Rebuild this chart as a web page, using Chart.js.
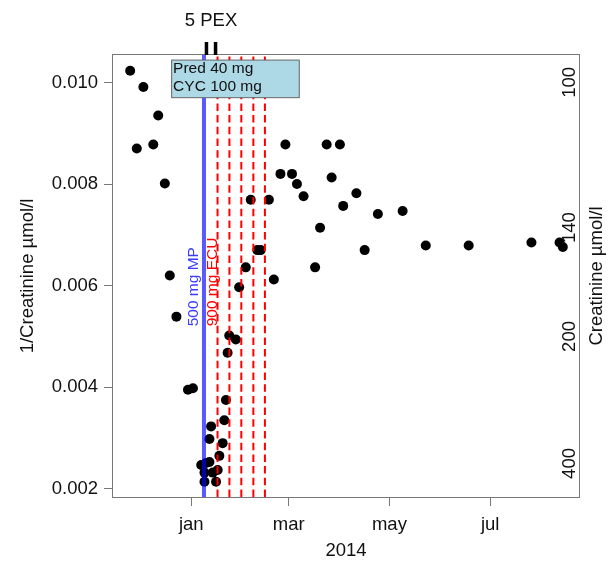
<!DOCTYPE html>
<html>
<head>
<meta charset="utf-8">
<script src="https://cdn.jsdelivr.net/npm/chart.js@4.4.0/dist/chart.umd.min.js"></script>
<style>
  html, body { margin: 0; padding: 0; background: #fff; }
</style>
</head>
<body>
<canvas id="chartContainer" width="610" height="562"></canvas>
<script>
// sample dates and 1/creatinine (1/(umol/l))
const sampleDates = [
  "2013-11-25", "2013-11-29", "2013-12-03", "2013-12-09", "2013-12-12",
  "2013-12-16", "2013-12-19", "2013-12-23", "2013-12-30", "2014-01-02",
  "2014-01-07", "2014-01-09", "2014-01-09", "2014-01-10", "2014-01-12",
  "2014-01-12", "2014-01-13", "2014-01-14", "2014-01-16", "2014-01-17",
  "2014-01-18", "2014-01-20", "2014-01-21", "2014-01-22", "2014-01-23",
  "2014-01-24", "2014-01-28", "2014-01-30", "2014-02-03", "2014-02-06",
  "2014-02-10", "2014-02-12", "2014-02-17", "2014-02-20", "2014-02-24",
  "2014-02-27", "2014-03-03", "2014-03-06", "2014-03-10", "2014-03-17",
  "2014-03-20", "2014-03-24", "2014-03-27", "2014-04-01", "2014-04-03",
  "2014-04-11", "2014-04-16", "2014-04-24", "2014-05-09", "2014-05-23",
  "2014-06-18", "2014-07-26", "2014-08-12", "2014-08-14"
];
const invCreatinine = [
  0.01023, 0.00870, 0.00991, 0.00878, 0.00935,
  0.00801, 0.00620, 0.00539, 0.00395, 0.00398,
  0.00247, 0.00232, 0.00214, 0.00251, 0.00253,
  0.00298, 0.00323, 0.00232, 0.00214, 0.00237,
  0.00265, 0.00290, 0.00335, 0.00375, 0.00468,
  0.00502, 0.00494, 0.00597, 0.00636, 0.00769,
  0.00670, 0.00670, 0.00769, 0.00612, 0.00820,
  0.00878, 0.00820, 0.00800, 0.00776, 0.00636,
  0.00714, 0.00878, 0.00813, 0.00878, 0.00757,
  0.00782, 0.00670, 0.00741, 0.00747, 0.00679,
  0.00679, 0.00685, 0.00685, 0.00676
];

// axes (x in days since 1 jan 2014)
const monthTicks = [0, 59, 120, 181];
const monthLabels = ["jan", "mar", "may", "jul"];
const leftTicks = [0.002, 0.004, 0.006, 0.008, 0.010];
const creatTicks = [100, 140, 200, 400];

// treatment events (days since 1 jan 2014)
const mpDay = 7.7;
const ecuDays = [15.9, 23.1, 30.3, 37.6, 44.6];
const pexDays = [9.2, 14.7];

const day0 = Date.UTC(2014, 0, 1);
const toDay = (s) => (Date.parse(s) - day0) / 86400000;

const FONT = "'Liberation Sans', Arial, sans-serif";
Chart.defaults.font.family = FONT;
Chart.defaults.color = "#111";

const points = sampleDates.map((d, i) => ({ x: toDay(d), y: invCreatinine[i] }));

// extra drawing: treatment lines, labels, box, right axis, frame
const overlays = {
  id: "overlays",
  afterDatasetsDraw(chart) {
    const { ctx, chartArea: a, scales: { x, y } } = chart;
    const rotText = (txt, px, py, color, size, align) => {
      ctx.save();
      ctx.translate(px, py);
      ctx.rotate(-Math.PI / 2);
      ctx.fillStyle = color;
      ctx.font = size + "px " + FONT;
      ctx.textAlign = align;
      ctx.textBaseline = "middle";
      ctx.fillText(txt, 0, 0);
      ctx.restore();
    };
    ctx.save();

    // ECU, red dashed
    ctx.strokeStyle = "#ff0000";
    ctx.lineWidth = 2;
    ctx.setLineDash([7.5, 4.2]);
    ecuDays.forEach((d) => {
      const px = x.getPixelForValue(d);
      ctx.beginPath();
      ctx.moveTo(px, a.bottom);
      ctx.lineTo(px, a.top);
      ctx.stroke();
    });
    ctx.setLineDash([]);

    // MP, blue
    const mpX = x.getPixelForValue(mpDay);
    ctx.strokeStyle = "rgba(0,0,255,0.65)";
    ctx.lineWidth = 4;
    ctx.beginPath();
    ctx.moveTo(mpX, a.bottom);
    ctx.lineTo(mpX, a.top);
    ctx.stroke();

    const labY = y.getPixelForValue(0.0052);
    rotText("500 mg MP", mpX - 10, labY, "#3c3cff", 15.5, "left");
    rotText("900 mg ECU", mpX + 9, labY, "#ff0000", 15.5, "left");

    // Pred / CYC box
    const bx0 = x.getPixelForValue(-11.9), bx1 = x.getPixelForValue(65.4);
    const by0 = y.getPixelForValue(0.01044), by1 = y.getPixelForValue(0.00970);
    ctx.fillStyle = "#add8e6";
    ctx.fillRect(bx0, by0, bx1 - bx0, by1 - by0);
    ctx.strokeStyle = "#666";
    ctx.lineWidth = 1;
    ctx.strokeRect(bx0, by0, bx1 - bx0, by1 - by0);
    ctx.fillStyle = "#111";
    ctx.font = "15.5px " + FONT;
    ctx.textAlign = "left";
    ctx.textBaseline = "middle";
    ctx.fillText("Pred 40 mg", bx0 + 1.5, by0 + 8.5);
    ctx.fillText("CYC 100 mg", bx0 + 1.5, by0 + 27);

    // frame
    ctx.strokeStyle = "#777";
    ctx.lineWidth = 1;
    ctx.strokeRect(a.left - 0.5, a.top - 0.5, a.right - a.left + 1, a.bottom - a.top + 1);

    // PEX marks above the plot
    ctx.strokeStyle = "#000";
    ctx.lineWidth = 3.5;
    let sum = 0;
    pexDays.forEach((d) => {
      const px = x.getPixelForValue(d);
      sum += px;
      ctx.beginPath();
      ctx.moveTo(px, a.top - 13);
      ctx.lineTo(px, a.top);
      ctx.stroke();
    });
    ctx.fillStyle = "#111";
    ctx.font = "18.5px " + FONT;
    ctx.textAlign = "center";
    ctx.fillText("5 PEX", sum / pexDays.length, 21);

    // right axis: creatinine
    creatTicks.forEach((c) => {
      rotText(String(c), a.right - 9, y.getPixelForValue(1 / c), "#111", 18.5, "center");
    });
    rotText("Creatinine \u00b5mol/l", a.right + 18, (a.top + a.bottom) / 2, "#111", 18.5, "center");

    ctx.restore();
  }
};

const config = {
  type: "scatter",
  data: {
    datasets: [{
      data: points,
      backgroundColor: "#000",
      borderWidth: 0,
      pointRadius: 5,
      pointHoverRadius: 5
    }]
  },
  options: {
    responsive: false,
    animation: false,
    events: [],
    layout: { padding: { top: 55, right: 31, bottom: 0, left: 0 } },
    scales: {
      x: {
        type: "linear",
        min: -47.4,
        max: 234.8,
        afterFit: (s) => { s.height = 65; },
        afterBuildTicks: (s) => { s.ticks = monthTicks.map((v) => ({ value: v })); },
        ticks: {
          callback: (v, i) => monthLabels[i],
          font: { size: 18.5 },
          padding: 8,
          maxRotation: 0,
          autoSkip: false
        },
        grid: { drawOnChartArea: false, drawTicks: true, tickLength: 9, color: "#777" },
        border: { display: false },
        title: {
          display: true,
          text: "2014",
          font: { size: 18.5, lineHeight: 1.2 },
          padding: { top: 0, bottom: 0 }
        }
      },
      y: {
        min: 0.00184,
        max: 0.01054,
        afterFit: (s) => { s.width = 113; },
        afterBuildTicks: (s) => { s.ticks = leftTicks.map((v) => ({ value: v })); },
        ticks: {
          callback: (v) => v.toFixed(3),
          font: { size: 18.5 },
          padding: 6
        },
        grid: { drawOnChartArea: false, drawTicks: true, tickLength: 9, color: "#777" },
        border: { display: false },
        title: {
          display: true,
          text: "1/Creatinine \u00b5mol/l",
          font: { size: 18.5, lineHeight: 1 },
          padding: { top: 18.75, bottom: 0 }
        }
      }
    },
    plugins: {
      legend: { display: false },
      tooltip: { enabled: false }
    }
  },
  plugins: [overlays]
};

const ctx = document.getElementById("chartContainer").getContext("2d");
const creatinineChart = new Chart(ctx, config);
</script>
</body>
</html>
